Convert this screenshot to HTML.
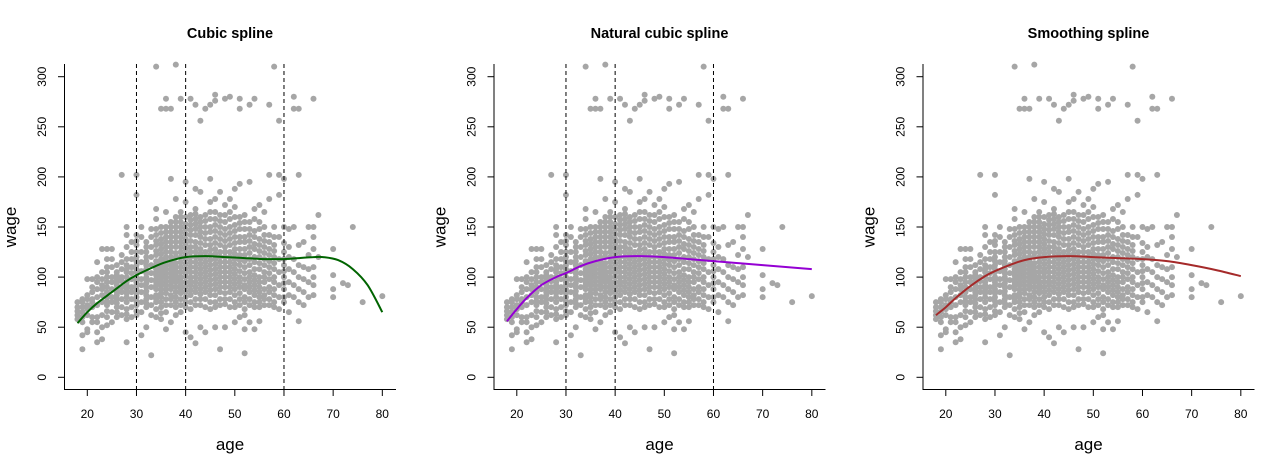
<!DOCTYPE html>
<html><head><meta charset="utf-8">
<style>
html,body{margin:0;padding:0;background:#fff;}
svg{display:block;font-family:"Liberation Sans",Arial,sans-serif;}
</style></head>
<body>
<svg id="chart" width="1285" height="470" viewBox="0 0 1285 470" xmlns="http://www.w3.org/2000/svg"></svg>
<script>
// ---- data ----
const ageGroups = [18,19,20,21,22,23,24,25,26,27,28,29,30,31,32,33,34,35,36,37,38,39,40,41,42,43,44,45,46,47,48,49,50,51,52,53,54,55,56,57,58,59,60,61,62,63,64,65,66,67,70,72,73,74,76,80];
const wageGroups = [
[58,62,66,70,75],[28,42,55,60,65,70,75,78],[45,48,62,68,72,78,82,98],[55,60,70,75,78,85,90,98],
[35,45,55,60,72,80,88,95,100,115],[38,50,62,75,82,88,92,98,105,128],[52,60,72,80,85,90,95,105,110,118,128],
[55,65,75,80,88,95,100,110,118,128],[60,70,78,85,92,98,105,112],[62,70,78,85,90,96,100,108,115,122,202],
[35,58,68,75,80,88,95,100,105,112,118,130,142,150],[60,70,78,85,90,98,104,110,118,125,135],
[62,72,80,88,95,100,105,112,120,132,142,182,202],[42,65,75,85,92,98,106,115,125,140,150],
[50,70,78,86,94,100,108,116,125,135],[22,62,72,80,90,97,104,112,120,130,140,148],
[60,75,82,92,98,105,112,122,132,142,158,168,310],[58,70,80,88,95,102,110,118,128,138,150,268],
[48,65,78,88,96,104,112,120,130,140,150,165,268,278],[55,72,82,92,100,108,116,125,135,145,155,198,268],
[62,75,85,95,102,110,120,130,140,150,160,178,312],[65,78,88,96,105,115,125,135,145,155,165,278],
[45,70,80,90,100,108,118,128,138,148,160,175,195],[40,68,82,92,100,110,120,130,142,152,162,278],
[34,72,85,95,105,115,125,135,148,158,168,188,272],[50,78,88,98,108,118,128,140,150,160,185,256],
[45,70,85,95,105,115,125,138,150,162,268],[68,82,92,102,112,122,132,145,158,175,198,272],
[50,75,88,98,108,118,128,140,152,165,178,282,276],[28,72,85,95,105,115,125,138,150,162,185],
[50,78,90,100,110,120,130,142,155,172,278],[70,85,95,105,115,125,138,150,165,178,280],
[55,75,88,98,108,118,128,140,152,170,188],[60,78,90,100,112,122,135,148,160,193,278,268],
[24,48,62,75,88,98,110,122,135,148,162],[55,72,85,95,105,118,130,142,155,195,272],
[48,70,82,92,102,115,128,140,168,278],[56,75,85,95,108,120,132,148,172],[72,82,95,105,118,130,142,165],
[72,85,98,110,122,135,178,202,272],[70,82,95,108,120,132,150,310],[68,80,92,105,118,140,182,202,256],
[75,88,100,112,125,150,198],[65,82,95,108,120,130,148],[80,92,105,118,150,268,280],
[56,75,88,100,112,132,202,268],[72,85,98,110,135],[80,95,108,122,150],[82,92,100,110,128,140,150,278],
[120,162],[80,88,102,128],[94],[92],[150],[75],[81]
];
// additional observations in the dense core (ages 24-60)
const coreAges = [24,26,28,30,32,34,35,36,37,38,39,40,41,42,43,44,45,46,47,48,49,50,51,52,53,54,55,56,57,58,60];
const coreWages = [
[66,76,100],[65,74,82,88,95,102],[63,84,92,108],[66,76,84,92,98,108,116,125,136],[74,82,90,98,104,112,120,130],
[68,78,88,95,102,108,116,126,136,148],[64,75,84,92,99,106,114,123,133,144],[72,84,92,100,108,116,125,135,145],
[78,88,96,104,112,120,130,140,150],[70,80,90,98,106,114,124,135,145,155],[72,84,92,100,110,120,130,140,150,160],
[75,85,95,104,113,123,133,143,153],[75,87,96,105,115,125,136,147,157],[78,90,100,110,120,130,142,153,163],
[72,83,93,103,113,123,134,145,155],[78,90,100,110,120,132,144,156],[75,87,97,107,117,127,138,150,165],
[70,82,93,103,113,123,134,146,158],[78,90,100,110,120,132,144,156],[73,84,95,105,115,125,136,148,162],
[78,90,100,110,120,132,144,158],[70,82,93,103,113,123,134,146,160],[72,84,95,106,117,128,140,154],
[68,80,92,104,116,128,140,155],[78,90,100,112,124,136,148],[75,87,97,108,120,133,146,158],
[70,80,90,100,114,126,138,155],[78,88,100,112,124,136,150],[78,90,104,116,128,142],[75,88,100,114,126,140],
[80,94,106,118,134]
];
const cubicAges = [18,20,22,25,28,30,33,36,40,44,48,52,56,60,63,66,68,71,74,77,80];
const cubicFit  = [54,65,74,85,96,102,109,115,120,121,120,119,118,118,119,120,120,117,108,92,65];
const naturalAges = [18,20,22,25,28,30,33,36,40,45,50,55,60,65,70,75,80];
const naturalFit  = [56,68,79,92,100,104,111,116,120,121,120,118,116,114,112,110,108];
const smoothAges = [18,20,22,25,28,30,33,36,40,45,50,55,60,65,70,75,80];
const smoothFit  = [62,70,79,91,101,106,112,117,120,121,120,119,118,116,112,107,101];
const knots = [30,40,60];
const xTicks = [20,30,40,50,60,70,80];
const yTicks = [0,50,100,150,200,250,300];
const titles = ["Cubic spline","Natural cubic spline","Smoothing spline"];
const offsets = [0,429.5,858.5];

const NS="http://www.w3.org/2000/svg";
const svg=document.getElementById('chart');
function mk(tag,attrs,parent){const e=document.createElementNS(NS,tag);for(const k in attrs)e.setAttribute(k,attrs[k]);(parent||svg).appendChild(e);return e;}

const panels=[
 {ages:cubicAges,fit:cubicFit,color:"#006400",knots:true,name:"cubic"},
 {ages:naturalAges,fit:naturalFit,color:"#9400D3",knots:true,name:"natural"},
 {ages:smoothAges,fit:smoothFit,color:"#A52A2A",knots:false,name:"smoothing"}
];

function smoothPath(xs,ys){
 // Catmull-Rom to bezier for a smooth curve through fitted values
 let d='M'+xs[0].toFixed(1)+','+ys[0].toFixed(1);
 for(let i=0;i<xs.length-1;i++){
  const x0=xs[Math.max(0,i-1)],y0=ys[Math.max(0,i-1)],x1=xs[i],y1=ys[i],x2=xs[i+1],y2=ys[i+1],x3=xs[Math.min(xs.length-1,i+2)],y3=ys[Math.min(xs.length-1,i+2)];
  const c1x=x1+(x2-x0)/6,c1y=y1+(y2-y0)/6,c2x=x2-(x3-x1)/6,c2y=y2-(y3-y1)/6;
  d+=` C${c1x.toFixed(1)},${c1y.toFixed(1)} ${c2x.toFixed(1)},${c2y.toFixed(1)} ${x2.toFixed(1)},${y2.toFixed(1)}`;
 }
 return d;
}

panels.forEach((p,i)=>{
 const off=offsets[i];
 const X=a=>off+87.3+(a-20)*4.917;
 const Y=w=>377.3-w*1.002;
 const g=mk('g',{});
 
 
 const t=mk('text',{x:off+230,y:38,'text-anchor':'middle','font-size':14.5,'font-weight':'bold',fill:'#000'},g);
 t.textContent=titles[i];
 
 
 const pts=mk('g',{fill:'#a6a6a6'},g);
 
 
 const addPt=(a,w)=>{
   const c=mk('circle',{cx:X(a),cy:Y(w),r:3},pts);
   
   
 };
 ageGroups.forEach((a,j)=>{wageGroups[j].forEach(w=>addPt(a,w));});
 coreAges.forEach((a,j)=>{coreWages[j].forEach(w=>addPt(a,w));});
 if(p.knots){knots.forEach(k=>{
   const l=mk('line',{x1:X(k),x2:X(k),y1:64,y2:389,stroke:'#000','stroke-width':1,'stroke-dasharray':'4,3'},g);
   
   
 });}
 const path=mk('path',{d:smoothPath(p.ages.map(X),p.fit.map(Y)),fill:'none',stroke:p.color,'stroke-width':2,'stroke-linejoin':'round'},g);
 
 
 const ax=mk('path',{d:`M${off+64.5},64 L${off+64.5},389.5 L${off+396},389.5`,fill:'none',stroke:'#000','stroke-width':1},g);
 
 
 xTicks.forEach(v=>{
   mk('line',{x1:X(v),x2:X(v),y1:389.5,y2:396,stroke:'#000'},g);
   const tl=mk('text',{x:X(v),y:418,'text-anchor':'middle','font-size':12,fill:'#000'},g);
   tl.textContent=v;
   
   
 });
 yTicks.forEach(v=>{
   mk('line',{x1:off+58,x2:off+64.5,y1:Y(v),y2:Y(v),stroke:'#000'},g);
   const tl=mk('text',{x:off+46,y:Y(v),'text-anchor':'middle','font-size':12,fill:'#000',transform:`rotate(-90 ${off+46} ${Y(v)})`},g);
   tl.textContent=v;
   
   
 });
 const xl=mk('text',{x:off+230,y:450,'text-anchor':'middle','font-size':17,fill:'#000'},g);
 xl.textContent='age';
 
 
 const yl=mk('text',{x:off+16,y:227,'text-anchor':'middle','font-size':17,fill:'#000',transform:`rotate(-90 ${off+16} 227)`},g);
 yl.textContent='wage';
 
 
});
</script>
</body></html>
